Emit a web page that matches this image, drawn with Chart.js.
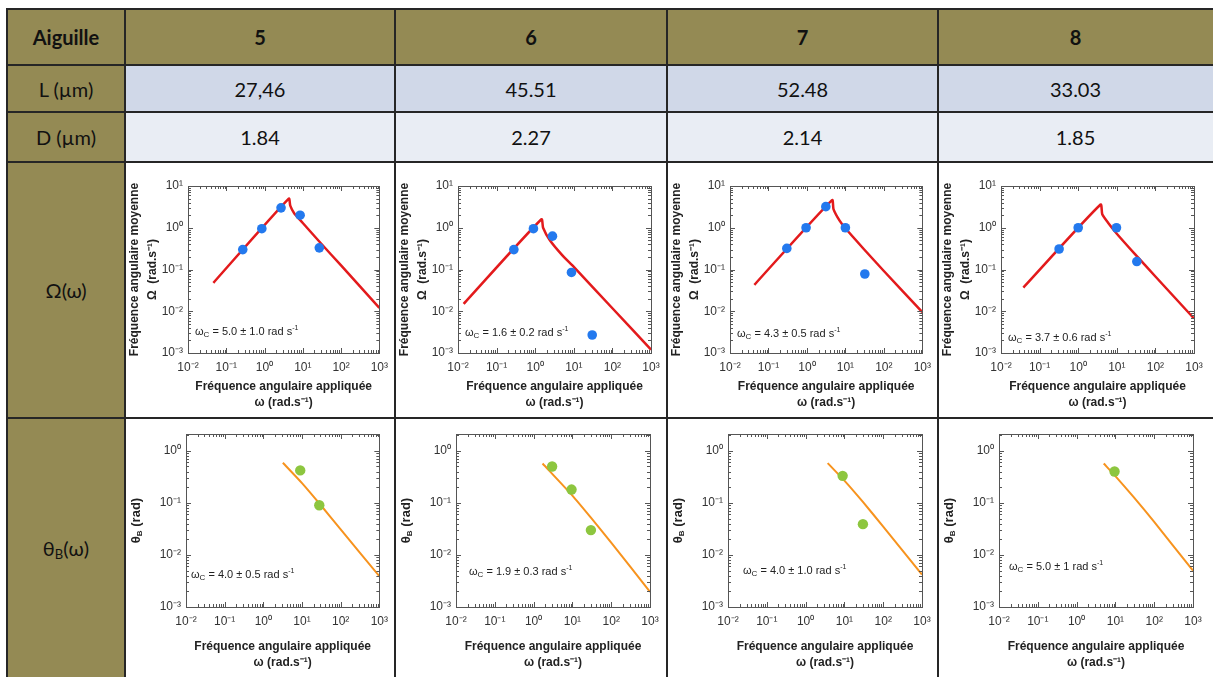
<!DOCTYPE html>
<html>
<head>
<meta charset="utf-8">
<script src="https://cdn.jsdelivr.net/npm/chart.js@4.4.1/dist/chart.umd.min.js"></script>
<style>
  body { margin: 0; background: #fff; width: 1213px; height: 677px; overflow: hidden; position: relative; }
  .cell { position: absolute; display: flex; align-items: center; justify-content: center;
          font-family: Lato, "Open Sans", sans-serif; font-size: 20px; color: #111; }
  .cell.bold { font-weight: bold; }
  .cell sub { font-size: 13px; position: relative; top: 3px; vertical-align: baseline; }
  .line { position: absolute; background: #262626; }
  canvas { position: absolute; }
</style>
</head>
<body>
<script>
// table text
const needles = ["5", "6", "7", "8"];
const lengths = ["27,46", "45.51", "52.48", "33.03"];
const diameters = ["1.84", "2.27", "2.14", "1.85"];
const omegaFits = ["5.0 ± 1.0", "1.6 ± 0.2", "4.3 ± 0.5", "3.7 ± 0.6"];
const thetaFits = ["4.0 ± 0.5", "1.9 ± 0.3", "4.0 ± 1.0", "5.0 ± 1"];

// Ω(ω) measured points (blue) and fitted curve (red)
const omegaPtsX = [
  [0.27, 0.85, 2.7, 8.5, 27],
  [0.28, 0.9, 2.8, 8.7, 30],
  [0.3, 0.95, 3.1, 10, 32],
  [0.32, 1, 9.8, 33]
];
const omegaPtsY = [
  [0.3, 0.95, 3.0, 2.0, 0.33],
  [0.3, 0.95, 0.63, 0.085, 0.0027],
  [0.32, 1.0, 3.2, 1.0, 0.078],
  [0.31, 1.0, 1.0, 0.155]
];
const omegaCurveX = [
  [0.046, 4.3, 4.7, 6, 10, 30, 100, 1000],
  [0.014, 1.45, 1.6, 2.4, 5, 10, 100, 1000],
  [0.043, 4.5, 4.9, 7, 10, 30, 100, 1000],
  [0.038, 3.8, 4.2, 6, 10, 30, 100, 1000]
];
const omegaCurveY = [
  [0.048, 5.0, 3.4, 2.2, 1.3, 0.42, 0.125, 0.012],
  [0.015, 1.6, 1.0, 0.5, 0.22, 0.115, 0.0118, 0.0012],
  [0.043, 4.6, 2.8, 1.5, 0.97, 0.31, 0.092, 0.0095],
  [0.037, 3.6, 2.1, 1.3, 0.72, 0.23, 0.068, 0.0067]
];

// θB(ω) measured points (green) and fitted curve (orange)
const thetaPtsX = [[9, 28], [3, 9.5, 30], [9, 30], [9.5]];
const thetaPtsY = [[0.42, 0.09], [0.5, 0.18, 0.03], [0.33, 0.039], [0.4]];
const thetaCurveX = [
  [3.2, 10, 30, 100, 1000],
  [1.7, 10, 30, 100, 1000],
  [3.7, 10, 30, 100, 1000],
  [5, 10, 30, 100, 1000]
];
const thetaCurveY = [
  [0.59, 0.24, 0.092, 0.031, 0.0039],
  [0.57, 0.138, 0.052, 0.0173, 0.00195],
  [0.58, 0.267, 0.104, 0.035, 0.0042],
  [0.57, 0.327, 0.127, 0.043, 0.005]
];

const xDecades = [0.01, 0.1, 1, 10, 100, 1000];
const omegaDecades = [0.001, 0.01, 0.1, 1, 10];
const thetaDecades = [0.001, 0.01, 0.1, 1];

// layout of the table
const cols = [7, 125, 395, 667, 938, 1213];
const rows = [9, 65, 112, 162, 418, 677];
const olive = "#948a54";
const FONT = "'Liberation Sans', Arial, sans-serif";

function addCell(r, c, html, bg, bold) {
  const d = document.createElement("div");
  d.className = "cell" + (bold ? " bold" : "");
  d.style.left = cols[c] + "px";
  d.style.top = rows[r] + "px";
  d.style.width = (cols[c + 1] - cols[c]) + "px";
  d.style.height = (rows[r + 1] - rows[r]) + "px";
  d.style.background = bg;
  d.innerHTML = "<span>" + html + "</span>";
  document.body.appendChild(d);
}

addCell(0, 0, "Aiguille", olive, true);
addCell(1, 0, "L (µm)", olive);
addCell(2, 0, "D (µm)", olive);
addCell(3, 0, "Ω(ω)", olive);
addCell(4, 0, "θ<sub>B</sub>(ω)", olive);
for (let i = 0; i < 4; i++) {
  addCell(0, i + 1, needles[i], olive, true);
  addCell(1, i + 1, lengths[i], "#d0d8e8");
  addCell(2, i + 1, diameters[i], "#e9edf4");
  addCell(3, i + 1, "", "#fff");
  addCell(4, i + 1, "", "#fff");
}

const sup = { "-": "⁻", "0": "⁰", "1": "¹", "2": "²", "3": "³" };
function powLabel(v) {
  const e = Math.round(Math.log10(v));
  return "10" + String(e).split("").map(ch => sup[ch]).join("");
}

function minorValues(min, max) {
  const out = [];
  for (let k = -4; k <= 3; k++) {
    for (let m = 1; m <= 9; m++) {
      const v = m * Math.pow(10, k);
      if (v >= min * 0.999 && v <= max * 1.001) out.push({ v, major: m === 1 });
    }
  }
  return out;
}

function drawRich(ctx, parts, x, y) {
  for (const p of parts) {
    ctx.font = (p.bold ? "bold " : "") + p.size + "px " + FONT;
    ctx.fillText(p.t, x, y + (p.dy || 0));
    x += ctx.measureText(p.t).width;
  }
}
function richWidth(ctx, parts) {
  let w = 0;
  for (const p of parts) {
    ctx.font = (p.bold ? "bold " : "") + p.size + "px " + FONT;
    w += ctx.measureText(p.t).width;
  }
  return w;
}

// box around the plot with inward log ticks on all sides
const framePlugin = {
  id: "frame",
  afterDraw(chart) {
    const { ctx, chartArea: a, scales } = chart;
    ctx.save();
    ctx.strokeStyle = "#555";
    ctx.lineWidth = 1;
    ctx.strokeRect(Math.round(a.left) + 0.5, Math.round(a.top) + 0.5,
      Math.round(a.right - a.left), Math.round(a.bottom - a.top));
    ctx.beginPath();
    for (const t of minorValues(scales.x.min, scales.x.max)) {
      const px = Math.round(scales.x.getPixelForValue(t.v)) + 0.5;
      const len = t.major ? 5 : 3;
      ctx.moveTo(px, a.bottom); ctx.lineTo(px, a.bottom - len);
      ctx.moveTo(px, a.top); ctx.lineTo(px, a.top + len);
    }
    for (const t of minorValues(scales.y.min, scales.y.max)) {
      const py = Math.round(scales.y.getPixelForValue(t.v)) + 0.5;
      const len = t.major ? 5 : 3;
      ctx.moveTo(a.left, py); ctx.lineTo(a.left + len, py);
      ctx.moveTo(a.right, py); ctx.lineTo(a.right - len, py);
    }
    ctx.stroke();
    ctx.restore();
  }
};

// fitted ωc label and the θB axis title
const notePlugin = {
  id: "note",
  afterDraw(chart, args, opts) {
    const { ctx, chartArea: a } = chart;
    ctx.save();
    ctx.fillStyle = "#222";
    ctx.textBaseline = "middle";
    drawRich(ctx, [
      { t: "ω", size: 11 },
      { t: "C", size: 8, dy: 3 },
      { t: " = " + opts.text + " rad s", size: 11 },
      { t: "-1", size: 7, dy: -4 }
    ], a.left + opts.dx, a.bottom - opts.dy);
    if (opts.thetaTitle) {
      const parts = [
        { t: "θ", size: 13, bold: true },
        { t: "B", size: 8, bold: true, dy: 4 },
        { t: " (rad)", size: 13, bold: true }
      ];
      ctx.translate(chart.scales.y.left + 11, (a.top + a.bottom) / 2);
      ctx.rotate(-Math.PI / 2);
      drawRich(ctx, parts, -richWidth(ctx, parts) / 2, 0);
    }
    ctx.restore();
  }
};

const noteDx = [[7, 7, 7, 7], [5, 13, 15, 10]];
const noteDy = [[21, 20, 19, 15], [32, 35, 36, 40]];

function makeChart(r, i) {
  const top = r === 3;
  const c = i + 1;
  const w = cols[c + 1] - cols[c];
  const h = rows[r + 1] - rows[r];
  const cv = document.createElement("canvas");
  cv.width = w; cv.height = h;
  cv.style.left = cols[c] + "px";
  cv.style.top = rows[r] + "px";
  document.body.appendChild(cv);

  const px = top ? omegaPtsX[i] : thetaPtsX[i];
  const py = top ? omegaPtsY[i] : thetaPtsY[i];
  const lx = top ? omegaCurveX[i] : thetaCurveX[i];
  const ly = top ? omegaCurveY[i] : thetaCurveY[i];
  const yLeft = top ? 63 : 61;
  const plotW = top ? 193 : 194;

  new Chart(cv, {
    type: "scatter",
    data: {
      datasets: [
        {
          type: "scatter",
          data: px.map((x, j) => ({ x, y: py[j] })),
          backgroundColor: top ? "#2379ee" : "#8dc63f",
          pointRadius: top ? 4.8 : 5.2,
          borderWidth: 0,
          order: 1
        },
        {
          type: "line",
          data: lx.map((x, j) => ({ x, y: ly[j] })),
          borderColor: top ? "#e31a1c" : "#f7931e",
          borderWidth: top ? 2.5 : 2,
          pointRadius: 0,
          tension: 0.2,
          order: 2
        }
      ]
    },
    options: {
      responsive: false,
      animation: false,
      devicePixelRatio: 1,
      layout: { padding: { top: top ? 24 : 16, right: w - yLeft - plotW, left: 0, bottom: 0 } },
      plugins: {
        legend: { display: false },
        tooltip: { enabled: false },
        note: {
          text: top ? omegaFits[i] : thetaFits[i],
          dx: noteDx[top ? 0 : 1][i],
          dy: noteDy[top ? 0 : 1][i],
          thetaTitle: !top
        }
      },
      scales: {
        x: {
          type: "logarithmic",
          position: "bottom",
          min: 0.01,
          max: 1000,
          afterBuildTicks: ax => { ax.ticks = xDecades.map(v => ({ value: v })); },
          afterFit: ax => { ax.height = top ? 65 : 70; },
          grid: { display: false, drawTicks: false },
          border: { display: false },
          ticks: {
            callback: v => powLabel(v),
            font: { size: 12, family: FONT },
            color: "#333",
            padding: 7,
            maxRotation: 0,
            autoSkip: false
          },
          title: {
            display: true,
            text: ["Fréquence angulaire appliquée", "ω (rad.s⁻¹)"],
            font: { size: 12, weight: "bold", family: FONT, lineHeight: 1.35 },
            color: "#222",
            padding: { top: 0, bottom: top ? 7 : 6 }
          }
        },
        y: {
          type: "logarithmic",
          min: 0.001,
          max: top ? 10 : 2.1,
          afterBuildTicks: ax => { ax.ticks = (top ? omegaDecades : thetaDecades).map(v => ({ value: v })); },
          afterFit: ax => { ax.width = yLeft; },
          grid: { display: false, drawTicks: false },
          border: { display: false },
          ticks: {
            callback: v => powLabel(v),
            font: { size: 12, family: FONT },
            color: "#333",
            padding: 5,
            autoSkip: false
          },
          title: {
            display: top,
            text: ["Fréquence angulaire moyenne", "Ω  (rad.s⁻¹)"],
            font: { size: 12, weight: "bold", family: FONT, lineHeight: 1.5 },
            color: "#222",
            padding: { top: 1, bottom: 0 }
          }
        }
      }
    },
    plugins: [framePlugin, notePlugin]
  });
}

for (let i = 0; i < 4; i++) {
  makeChart(3, i);
  makeChart(4, i);
}

// table rules on top
function addLine(x, y, w, h) {
  const d = document.createElement("div");
  d.className = "line";
  d.style.left = x + "px"; d.style.top = y + "px";
  d.style.width = w + "px"; d.style.height = h + "px";
  document.body.appendChild(d);
}
for (let r = 0; r < 5; r++) addLine(cols[0] - 1, rows[r] - 1, 1213 - cols[0] + 1, 2);
for (let c = 0; c < 5; c++) addLine(cols[c] - 1, rows[0] - 1, 2, 677 - rows[0] + 1);
</script>
</body>
</html>
